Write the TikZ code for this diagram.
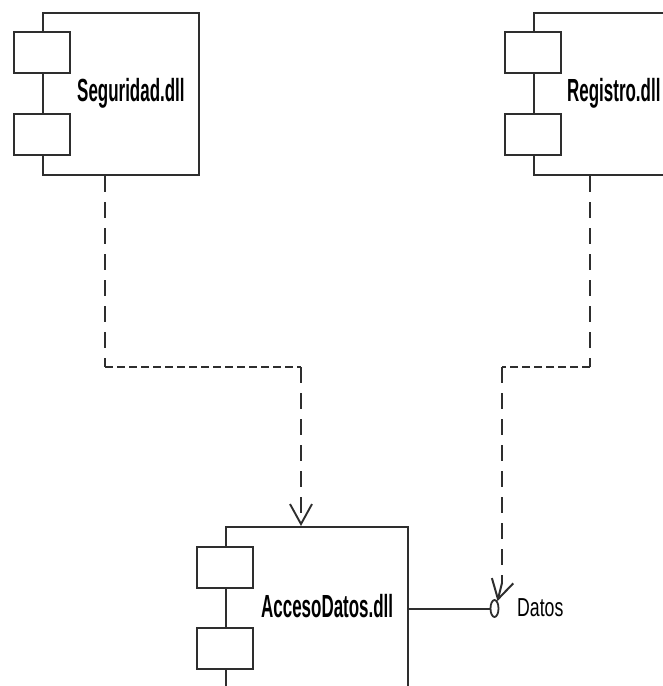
\documentclass[tikz,border=0pt]{standalone}
\usepackage{fontspec}
\usetikzlibrary{arrows.meta,shapes.geometric}
\newfontfamily\complabel[FakeStretch=0.53]{Liberation Sans}
\newfontfamily\portlabel[FakeStretch=0.68]{Liberation Sans}
\definecolor{ink}{HTML}{2E2E2E}
\begin{document}
\begin{tikzpicture}[x=1pt,y=-1pt,
  body/.style={draw=ink, line width=2pt, fill=white, rectangle, inner sep=0pt, anchor=north west},
  part/.style={draw=ink, line width=2pt, fill=white, rectangle, inner sep=0pt,
               minimum width=56pt, minimum height=41pt},
  title/.style={anchor=base west, inner sep=0pt, font=\complabel\bfseries\fontsize{32}{35}\selectfont},
  porttext/.style={anchor=base west, inner sep=0pt, font=\portlabel\fontsize{26}{29}\selectfont},
  vdep/.style={draw=ink, line width=1.9pt, dash pattern=on 16pt off 10pt},
  hdep/.style={draw=ink, line width=1.9pt, dash pattern=on 8pt off 4pt},
  opentip/.style={-{Straight Barb[length=20pt,width=22pt]}},
  wire/.style={draw=ink, line width=2pt}
]
\useasboundingbox (0,0) rectangle (663,686);
\clip (0,0) rectangle (663,686);

% Seguridad.dll component
\node[body, minimum width=156pt, minimum height=162pt] (seg) at (42,12) {};
\node[part] (seg1) at (42,52.5) {};
\node[part] (seg2) at (42,134) {};
\node[title] (seglbl) at (77,101) {Seguridad.dll};

% Registro.dll component
\node[body, minimum width=200pt, minimum height=162pt] (reg) at (533,12) {};
\node[part] (reg1) at (533,52.5) {};
\node[part] (reg2) at (533,134) {};
\node[title] (reglbl) at (567,101) {Registro.dll};

% AccesoDatos.dll component
\node[body, minimum width=182pt, minimum height=200pt] (acc) at (225,526) {};
\node[part] (acc1) at (225,567) {};
\node[part] (acc2) at (225,648.5) {};
\node[title] (acclbl) at (261,617) {AccesoDatos.dll};

% provided interface "Datos"
\node[draw=ink, line width=1.8pt, ellipse, fill=white, inner sep=0pt,
      minimum width=8pt, minimum height=17pt] (datos) at (494.5,608.5) {};
\draw[wire] ([yshift=-82.5pt]acc.north east) -- (datos.west);
\node[porttext] (datoslbl) at (517,616) {Datos};

% dependency Seguridad.dll -> AccesoDatos.dll
\coordinate (k1) at (105,367);
\coordinate (k2) at (301,367);
\draw[vdep] ([xshift=63pt]seg.south west) -- (k1);
\draw[hdep] (k1) -- (k2);
\draw[vdep, opentip] (k2) -- ([xshift=76pt]acc.north west);

% dependency Registro.dll -> Datos
\coordinate (k3) at (590,367);
\coordinate (k4) at (502,367);
\coordinate (k5) at (502,583);
\draw[vdep] ([xshift=57pt]reg.south west) -- (k3);
\draw[hdep] (k3) -- (k4);
\draw[vdep] (k4) -- (k5);
\draw[wire, -{Straight Barb[length=19pt,width=22pt]}] (k5) -- ([xshift=3pt,yshift=-2pt]datos.north);
\end{tikzpicture}
\end{document}
